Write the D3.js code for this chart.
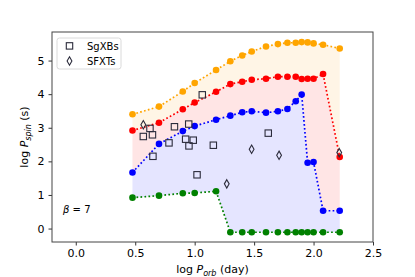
<!DOCTYPE html>
<html>
<head>
    <meta charset="utf-8">
    <script src="https://d3js.org/d3.v7.min.js"></script>
    <style>
        body { margin: 0; background: #fff; }
        text { font-family: "DejaVu Sans", sans-serif; fill: #000; }
    </style>
</head>
<body>
    <div id="my_dataviz"></div>
    <script>

        // orbital period grid (log day) shared by the four model curves
        var porb = [0.477, 0.70, 0.90, 1.00, 1.18, 1.30, 1.40, 1.48, 1.60, 1.70, 1.78, 1.85, 1.90, 1.95, 2.00, 2.08, 2.22];
        var spinOrange = [3.40, 3.63, 4.08, 4.33, 4.72, 4.98, 5.15, 5.27, 5.42, 5.49, 5.53, 5.53, 5.55, 5.54, 5.51, 5.47, 5.36];
        var spinRed = [2.92, 3.15, 3.55, 3.75, 4.07, 4.30, 4.37, 4.43, 4.46, 4.52, 4.52, 4.52, 4.45, 4.46, 4.46, 4.60, 2.13];
        var spinBlue = [1.67, 2.52, 2.90, 3.05, 3.24, 3.36, 3.46, 3.49, 3.45, 3.49, 3.56, 3.79, 3.99, 1.96, 1.98, 0.53, 0.53];
        var spinGreen = [0.92, 0.98, 1.05, 1.06, 1.11, -0.11, -0.11, -0.11, -0.11, -0.11, -0.11, -0.11, -0.11, -0.11, -0.11, -0.11, -0.11];

        // observed sources
        var sgxbX = [0.568, 0.624, 0.645, 0.649, 0.784, 0.830, 0.950, 0.924, 0.988, 0.952, 1.064, 1.157, 1.020, 1.619];
        var sgxbY = [2.74, 2.98, 2.79, 2.15, 2.55, 3.03, 3.11, 2.66, 2.63, 2.46, 3.98, 2.48, 1.60, 2.84];
        var sfxtX = [0.568, 1.27, 1.479, 1.71, 2.216];
        var sfxtY = [3.09, 1.33, 2.36, 2.18, 2.26];

        var xTicks = [0, 0.5, 1, 1.5, 2, 2.5];
        var yTicks = [0, 1, 2, 3, 4, 5];

        var margin = { top: 32, right: 42, bottom: 35, left: 52 },
            width = 415 - margin.left - margin.right,
            height = 277 - margin.top - margin.bottom;

        var svg = d3.select("#my_dataviz")
            .append("svg")
            .attr("width", 415)
            .attr("height", 277)
            .append("g")
            .attr("transform", "translate(" + margin.left + "," + margin.top + ")");

        var x = d3.scaleLinear().domain([-0.2, 2.5]).range([0, width]);
        var y = d3.scaleLinear().domain([-0.40, 5.85]).range([height, 0]);

        var rows = porb.map(function (p, i) {
            return { p: p, o: spinOrange[i], r: spinRed[i], b: spinBlue[i], g: spinGreen[i] };
        });

        // shaded bands
        function band(lo, hi, color) {
            svg.append("path")
                .datum(rows)
                .attr("fill", color)
                .attr("d", d3.area()
                    .x(function (d) { return x(d.p); })
                    .y0(function (d) { return y(d[lo]); })
                    .y1(function (d) { return y(d[hi]); }));
        }
        band("r", "o", "#fff5e6");
        band("b", "r", "#ffe5e5");
        band("g", "b", "#e5e5ff");

        // dotted curves with markers
        function curve(key, color) {
            svg.append("path")
                .datum(rows)
                .attr("fill", "none")
                .attr("stroke", color)
                .attr("stroke-width", 1.7)
                .attr("stroke-dasharray", "1.7,2.3")
                .attr("d", d3.line()
                    .x(function (d) { return x(d.p); })
                    .y(function (d) { return y(d[key]); }));
            svg.selectAll(null)
                .data(rows)
                .enter()
                .append("circle")
                .attr("cx", function (d) { return x(d.p); })
                .attr("cy", function (d) { return y(d[key]); })
                .attr("r", 3.3)
                .attr("fill", color);
        }
        curve("o", "orange");
        curve("r", "red");
        curve("b", "blue");
        curve("g", "green");

        // SgXBs squares
        svg.selectAll(null)
            .data(sgxbX)
            .enter()
            .append("rect")
            .attr("x", function (d) { return x(d) - 3.2; })
            .attr("y", function (d, i) { return y(sgxbY[i]) - 3.2; })
            .attr("width", 6.4)
            .attr("height", 6.4)
            .attr("fill", "none")
            .attr("stroke", "#2b2b3b")
            .attr("stroke-width", 1.1);

        // SFXTs thin diamonds
        var diamond = "M0,-4.2L2.4,0L0,4.2L-2.4,0Z";
        svg.selectAll(null)
            .data(sfxtX)
            .enter()
            .append("path")
            .attr("d", diamond)
            .attr("transform", function (d, i) { return "translate(" + x(d) + "," + y(sfxtY[i]) + ")"; })
            .attr("fill", "none")
            .attr("stroke", "#2b2b3b")
            .attr("stroke-width", 1.1);

        // axes
        var xAxis = svg.append("g")
            .attr("transform", "translate(0," + height + ")")
            .call(d3.axisBottom(x).tickValues(xTicks).tickFormat(d3.format(".1f")).tickSize(3.5).tickPadding(4));
        var yAxis = svg.append("g")
            .call(d3.axisLeft(y).tickValues(yTicks).tickFormat(d3.format("d")).tickSize(3.5).tickPadding(4));
        [xAxis, yAxis].forEach(function (a) {
            a.select(".domain").remove();
            a.selectAll("line").attr("stroke", "#333");
            a.selectAll("text").style("font-size", "11px").attr("fill", "#000");
        });

        // frame
        svg.append("rect")
            .attr("width", width)
            .attr("height", height)
            .attr("fill", "none")
            .attr("stroke", "#444")
            .attr("stroke-width", 1);

        // axis labels
        var xl = svg.append("text")
            .attr("x", width / 2)
            .attr("y", height + 31)
            .attr("text-anchor", "middle")
            .style("font-size", "11px");
        xl.append("tspan").text("log ");
        xl.append("tspan").attr("font-style", "italic").text("P");
        xl.append("tspan").attr("font-style", "italic").attr("font-size", "8px").attr("dy", 2.5).text("orb");
        xl.append("tspan").attr("dy", -2.5).text(" (day)");

        var yl = svg.append("text")
            .attr("transform", "translate(-24," + (height / 2) + ") rotate(-90)")
            .attr("text-anchor", "middle")
            .style("font-size", "11px");
        yl.append("tspan").text("log ");
        yl.append("tspan").attr("font-style", "italic").text("P");
        yl.append("tspan").attr("font-style", "italic").attr("font-size", "8px").attr("dy", 2.5).text("spin");
        yl.append("tspan").attr("dy", -2.5).text(" (s)");

        // beta annotation
        svg.append("text")
            .attr("x", 11)
            .attr("y", 181)
            .style("font-size", "10px")
            .html('<tspan font-style="italic">β</tspan> = 7');

        // legend
        var lg = svg.append("g").attr("transform", "translate(5,6)");
        lg.append("rect")
            .attr("width", 64)
            .attr("height", 31)
            .attr("rx", 2.5)
            .attr("fill", "#fff")
            .attr("fill-opacity", 0.8)
            .attr("stroke", "#d0d0d0")
            .attr("stroke-width", 0.8);
        lg.append("rect")
            .attr("x", 9.3).attr("y", 4.7)
            .attr("width", 6.4).attr("height", 6.4)
            .attr("fill", "none").attr("stroke", "#2b2b3b").attr("stroke-width", 1.1);
        lg.append("path")
            .attr("d", diamond)
            .attr("transform", "translate(12.5,23)")
            .attr("fill", "none").attr("stroke", "#2b2b3b").attr("stroke-width", 1.1);
        lg.append("text").attr("x", 30).attr("y", 11.5).style("font-size", "10px").text("SgXBs");
        lg.append("text").attr("x", 30).attr("y", 26.5).style("font-size", "10px").text("SFXTs");

    </script>
</body>
</html>
